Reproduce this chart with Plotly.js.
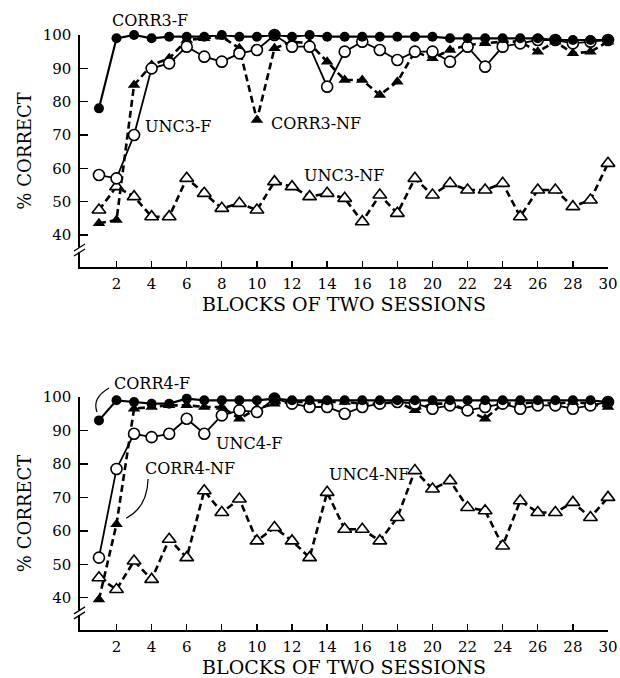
<!DOCTYPE html>
<html>
<head>
<meta charset="utf-8">
<script src="https://cdn.plot.ly/plotly-3.0.1.min.js"></script>
<style>
html,body{margin:0;padding:0;background:#fff;}
#chart{width:620px;height:678px;}
</style>
</head>
<body>
<div id="chart"></div>
<script>
// ---- data ----
var blocks = [1,2,3,4,5,6,7,8,9,10,11,12,13,14,15,16,17,18,19,20,21,22,23,24,25,26,27,28,29,30];

// top panel (3)
var corr3F  = [78,99,100,99,99.5,99.5,99.5,100,99.5,99.5,100,99.5,100,99.5,99.5,99.5,99.5,99.5,99.5,99.5,99,99,99,99,99,99,98.5,98.5,98.5,98.5];
var unc3F   = [58,57,70,90,91.5,96.5,93.5,92,94.5,95.5,100,96.5,96.5,84.5,95,98,95.5,92.5,95,95,92,96.5,90.5,96.5,97.5,98.5,98.5,97.5,98,98.5];
var corr3NF = [43.5,44.5,85,91,93,98.5,99,99.5,96,74.5,96,98,97.5,92,86.5,86.5,82,86,95,93,95.5,97,97.5,98,98,95,98,94.5,95,98];
var unc3NF  = [47.5,54.5,51.5,45.5,45.5,57,52.5,48,49.5,47.5,56,54.5,51.5,52.5,51,44,52,46.5,57,52,55.5,53.5,53.5,55.5,45.5,53.5,53.5,48.5,50.5,61.5];

// bottom panel (4)
var corr4F  = [93,99,98.5,98,98,99.5,99,99,99,99,99.5,99,99,99,99,99,99,99,99,99,99,99,99,99,99,99,99,99,99,98.5];
var unc4F   = [52,78.5,89,88,89,93.5,89,94.5,96,95.5,99.5,98,97,97,95,97,98,98.5,98,96.5,97.5,96,97,98,96.5,97.5,97.5,96.5,97.5,98.5];
var corr4NF = [39.5,62,96.5,97,97.5,97.5,97,97,93.5,96.5,98,98.5,98.5,98.5,98.5,98,98,98.5,96,98,98,96,93.5,98,98,98.5,98,98.5,98,97];
var unc4NF  = [46,42.5,51,45.5,57.5,52,72,65.5,69.5,57,61,57,52,71.5,60.5,60.5,57,64,78,72.5,75,67,66,55.5,69,65.5,65.5,68.5,64,70];

var yTicks = [40,50,60,70,80,90,100];
var xTicks = [2,4,6,8,10,12,14,16,18,20,22,24,26,28,30];

var seriesLabels = {
  top: ["CORR3-F","UNC3-F","CORR3-NF","UNC3-NF"],
  bottom: ["CORR4-F","UNC4-F","CORR4-NF","UNC4-NF"]
};

// ---- styles ----
var FONT = "DejaVu Serif, Liberation Serif, serif";
function solidFilled(y, xa, ya, name){
  return {x:blocks, y:y, xaxis:xa, yaxis:ya, name:name, type:'scatter', mode:'lines+markers',
    line:{color:'#000', width:2.2}, marker:{symbol:'circle', size:10, color:'#000'}, cliponaxis:false};
}
function solidOpen(y, xa, ya, name){
  return {x:blocks, y:y, xaxis:xa, yaxis:ya, name:name, type:'scatter', mode:'lines+markers',
    line:{color:'#000', width:1.8}, marker:{symbol:'circle', size:11, color:'#fff', line:{color:'#000', width:1.6}}, cliponaxis:false};
}
function dashFilled(y, xa, ya, name){
  return {x:blocks, y:y, xaxis:xa, yaxis:ya, name:name, type:'scatter', mode:'lines+markers',
    line:{color:'#000', width:2.6, dash:'7px,4px'}, marker:{symbol:'triangle-up', size:11, color:'#000'}, cliponaxis:false};
}
function dashOpen(y, xa, ya, name){
  return {x:blocks, y:y, xaxis:xa, yaxis:ya, name:name, type:'scatter', mode:'lines+markers',
    line:{color:'#000', width:2.6, dash:'7px,4px'}, marker:{symbol:'triangle-up', size:12, color:'#fff', line:{color:'#000', width:1.6}}, cliponaxis:false};
}

var data = [
  dashOpen(unc3NF,'x','y',seriesLabels.top[3]),
  dashFilled(corr3NF,'x','y',seriesLabels.top[2]),
  solidOpen(unc3F,'x','y',seriesLabels.top[1]),
  solidFilled(corr3F,'x','y',seriesLabels.top[0]),
  dashOpen(unc4NF,'x2','y2',seriesLabels.bottom[3]),
  dashFilled(corr4NF,'x2','y2',seriesLabels.bottom[2]),
  solidOpen(unc4F,'x2','y2',seriesLabels.bottom[1]),
  solidFilled(corr4F,'x2','y2',seriesLabels.bottom[0])
];

function xAxis(anchor){
  return {anchor:anchor, range:[-0.08,30], tickmode:'array', tickvals:xTicks, ticktext:xTicks.map(String),
    ticks:'inside', ticklen:6, tickwidth:1.3, tickcolor:'#000', showline:true, linecolor:'#000', linewidth:1.6,
    showgrid:false, zeroline:false, ticklabelstandoff:2,
    tickfont:{family:FONT, size:15, color:'#000'},
    title:{text:'BLOCKS OF TWO SESSIONS', font:{family:FONT, size:19, color:'#000'}, standoff:5}};
}
function yAxis(anchor, domain){
  return {anchor:anchor, domain:domain, range:[30.4,100], tickmode:'array', tickvals:yTicks, ticktext:yTicks.map(String),
    ticks:'inside', ticklen:8, tickwidth:1.3, tickcolor:'#000', showline:true, linecolor:'#000', linewidth:1.6,
    showgrid:false, zeroline:false, ticklabelstandoff:4,
    tickfont:{family:FONT, size:15, color:'#000'},
    title:{text:'% CORRECT', font:{family:FONT, size:18, color:'#000'}, standoff:6}};
}

function label(text, x, y, xr, yr){
  return {text:text, x:x, y:y, xref:xr, yref:yr, xanchor:'left', yanchor:'middle', showarrow:false,
    font:{family:FONT, size:16, color:'#000'}};
}

var annotations = [
  label('CORR3-F', 0.0568, 0.9848, 'paper', 'paper'),
  label('UNC3-F', 3.5, 72.7, 'x', 'y'),
  label('CORR3-NF', 10.68, 73.6, 'x', 'y'),
  label('UNC3-NF', 12.56, 58, 'x', 'y'),
  label('CORR4-F', 0.0606, 0.4331, 'paper', 'paper'),
  label('UNC4-F', 7.55, 86, 'x2', 'y2'),
  label('CORR4-NF', 3.5, 78.5, 'x2', 'y2'),
  label('UNC4-NF', 14.0, 76.7, 'x2', 'y2')
];

function brk(yr){
  return [
    {type:'rect', xref:'paper', yref:yr, x0:-0.006, x1:0.006, y0:34.8, y1:36.3, fillcolor:'#fff', line:{width:0}},
    {type:'line', xref:'paper', yref:yr, x0:-0.0114, x1:0.0095, y0:35.2, y1:37.3, line:{color:'#000', width:1.3}},
    {type:'line', xref:'paper', yref:yr, x0:-0.0114, x1:0.0095, y0:33.7, y1:35.8, line:{color:'#000', width:1.3}}
  ];
}
var shapes = brk('y').concat(brk('y2')).concat([
  {type:'path', xref:'paper', yref:'paper', path:'M 0.0322,0.389 Q 0.022,0.410 0.055,0.4255', line:{color:'#000', width:1.2}},
  {type:'path', xref:'x2', yref:'y2', path:'M 3.8,75.5 Q 3.75,67 2.55,63.8', line:{color:'#000', width:1.2}}
]);

var layout = {
  width:620, height:678,
  margin:{l:80, r:12, t:10, b:10},
  paper_bgcolor:'#fff', plot_bgcolor:'#fff',
  showlegend:false,
  xaxis: xAxis('y'),
  yaxis: yAxis('x', [0.6094, 0.9620]),
  xaxis2: xAxis('y2'),
  yaxis2: yAxis('x2', [0.0578, 0.4119]),
  annotations: annotations,
  shapes: shapes
};

Plotly.newPlot('chart', data, layout, {staticPlot:true, displayModeBar:false});
</script>
</body>
</html>
